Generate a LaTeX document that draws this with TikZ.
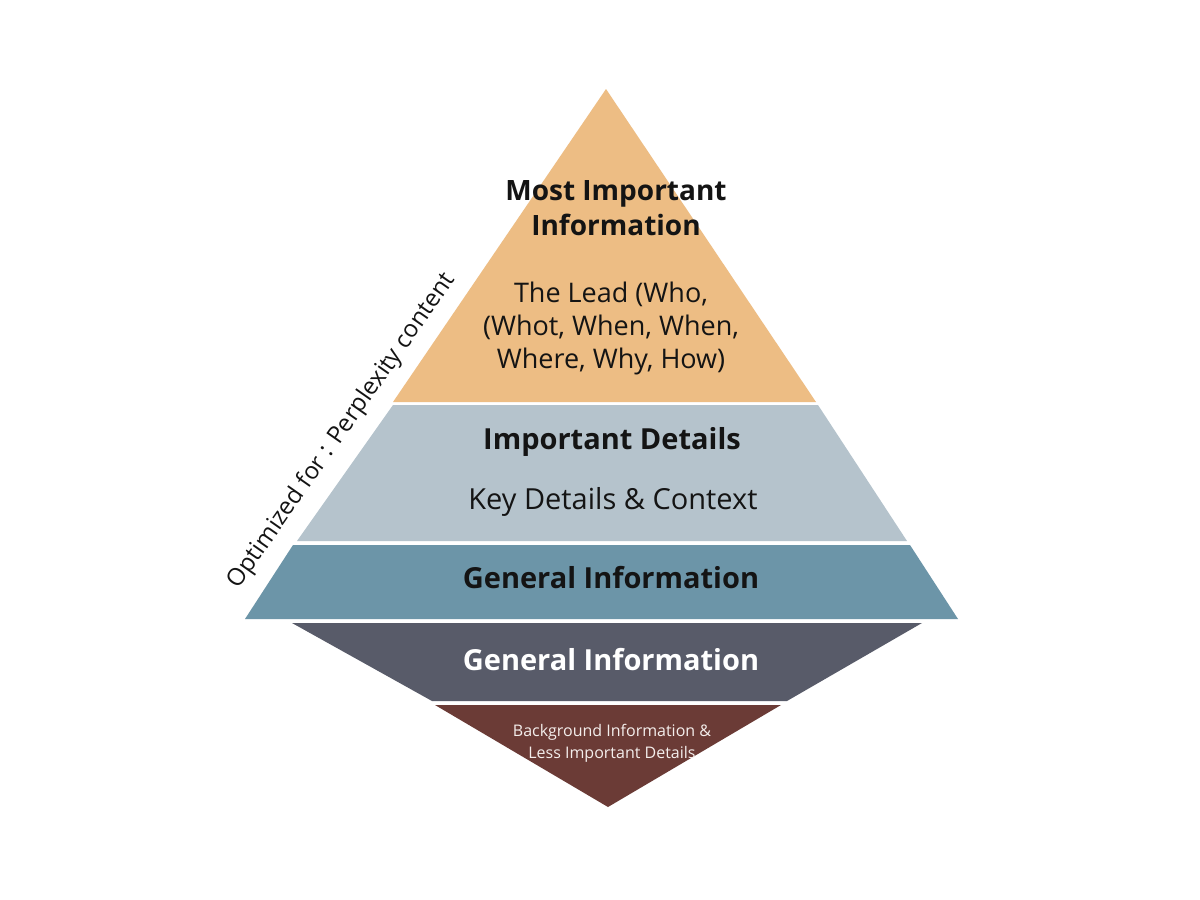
\documentclass[tikz,border=0pt]{standalone}
\usepackage{fontspec}
\setmainfont{Open Sans}
\definecolor{cTop}{HTML}{EDBD84}
\definecolor{cTwo}{HTML}{B5C3CC}
\definecolor{cThree}{HTML}{6C95A8}
\definecolor{cFour}{HTML}{585B69}
\definecolor{cFive}{HTML}{6B3B36}
\definecolor{txtDark}{HTML}{141414}
\definecolor{txtLight}{HTML}{F4EEEC}
\tikzset{
  headtxt/.style={font=\bfseries\fontsize{29}{34}\selectfont, text=txtDark, align=center, inner sep=0pt},
  bodytxt/.style={font=\fontsize{27}{33}\selectfont, text=txtDark, align=center, inner sep=0pt},
  smalltxt/.style={font=\fontsize{16}{22}\selectfont, text=txtLight, align=center, inner sep=0pt},
  sidetxt/.style={font=\fontsize{24}{28}\selectfont, text=txtDark, inner sep=0pt}
}
\begin{document}
\begin{tikzpicture}[x=1pt,y=-1pt]
\useasboundingbox[fill=white] (0,0) rectangle (1200,900);
% layers
\fill[cTop]   (606,89) -- (816,402) -- (393,402) -- cycle;
\fill[cTwo]   (393,405) -- (818,405) -- (907,541) -- (297,541) -- cycle;
\fill[cThree] (293,545) -- (910,545) -- (958,619) -- (245,619) -- cycle;
\fill[cFour]  (292,623) -- (922,623) -- (787,701) -- (432,701) -- cycle;
\fill[cFive]  (435,705) -- (781,705) -- (608,807) -- cycle;
% texts
\node[headtxt, font=\bfseries\fontsize{28}{35}\selectfont] (t1) at (616,208) {Most Important\\Information};
\node[bodytxt] (t2) at (611,328) {The Lead (Who,\\(Whot, When, When,\\Where, Why, How)};
\node[headtxt] (t3) at (612,442) {Important Details};
\node[bodytxt, font=\fontsize{29}{33}\selectfont] (t4) at (613,502) {Key Details \& Context};
\node[headtxt] (t5) at (611,578) {General Information};
\node[headtxt, text=white] (t6) at (611,660) {General Information};
\node[smalltxt] (t7) at (612,743) {Background Information \&\\Less Important Details};
\node[sidetxt, rotate=55] (side) at (342,431) {Optimized for : Perplexity content};
\end{tikzpicture}
\end{document}
